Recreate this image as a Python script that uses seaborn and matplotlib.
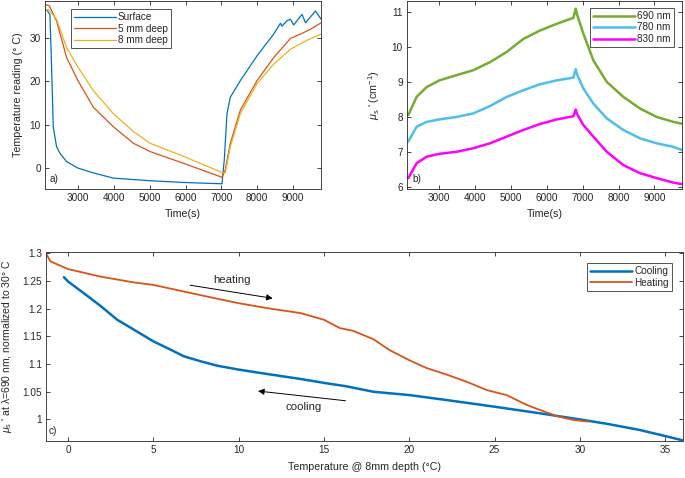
import numpy as np
import pandas as pd
import matplotlib
matplotlib.use("Agg")
import matplotlib.pyplot as plt
import seaborn as sns

# ---------------- data ----------------
# Panel a: temperature readings vs time
surf_t = [2080, 2124, 2217, 2264, 2310, 2403, 2497, 2683, 3000, 3429, 3988, 5013, 5945, 7017,
          7082, 7157, 7250, 7529, 7995, 8461, 8648, 8690, 8834, 8927, 9020, 9207, 9253, 9347, 9627, 9785]
surf_T = [36.5, 36.4, 35.3, 23.2, 9.5, 4.9, 3.4, 1.5, 0.0, -1.1, -2.3, -2.9, -3.3, -3.6,
          1.9, 12.5, 16.3, 20.1, 25.8, 30.8, 33.3, 32.6, 33.9, 34.2, 32.9, 34.9, 35.3, 33.4, 36.1, 34.2]
d5_t = [2080, 2200, 2403, 2683, 3000, 3429, 3988, 4547, 5013, 5945, 7017, 7110, 7250, 7529, 7995,
        8461, 8927, 9207, 9487, 9785]
d5_T = [37.6, 37.3, 33.8, 25.4, 20.1, 14.0, 9.5, 5.7, 3.8, 1.1, -2.1, -0.4, 5.7, 13.3, 20.1,
        25.4, 29.8, 30.8, 31.9, 33.4]
d8_t = [2080, 2200, 2403, 2683, 3000, 3429, 3988, 4547, 5013, 5945, 7017, 7110, 7250, 7529, 7995,
        8461, 8927, 9393, 9785]
d8_T = [36.4, 36.3, 34.2, 27.7, 23.2, 17.8, 12.5, 8.4, 5.7, 2.7, -1.0, -1.1, 4.9, 12.5, 19.4,
        23.9, 27.3, 29.4, 30.8]

# Panel b: reduced scattering vs time
mus_t = [2135, 2367, 2647, 3000, 3484, 3949, 4414, 4879, 5344, 5809, 6274, 6740, 6805, 6851,
         7019, 7298, 7670, 8135, 8600, 9065, 9530, 9763]
mus_690 = [8.05, 8.57, 8.85, 9.04, 9.19, 9.33, 9.56, 9.85, 10.22, 10.46, 10.65, 10.82, 11.08, 10.89,
           10.37, 9.61, 9.00, 8.57, 8.24, 8.00, 7.86, 7.81]
mus_780 = [7.30, 7.72, 7.86, 7.93, 8.00, 8.10, 8.31, 8.57, 8.76, 8.93, 9.04, 9.12, 9.36, 9.19,
           8.81, 8.38, 7.96, 7.63, 7.39, 7.25, 7.15, 7.06]
mus_830 = [6.26, 6.68, 6.87, 6.95, 7.01, 7.11, 7.25, 7.44, 7.63, 7.80, 7.93, 8.02, 8.21, 8.07,
           7.77, 7.44, 7.01, 6.63, 6.40, 6.26, 6.13, 6.09]

# Panel c: normalized mu_s' vs temperature at 8 mm
cool_T = [-0.25, 0.0, 0.92, 1.9, 2.88, 3.86, 5.0, 5.81, 6.79, 7.77, 8.75, 10.0, 11.68, 13.64, 15.0,
          16.28, 17.89, 20.0, 22.19, 25.0, 27.67, 30.0, 31.6, 33.5, 35.0, 36.05]
cool_v = [1.257, 1.249, 1.228, 1.205, 1.180, 1.162, 1.141, 1.129, 1.114, 1.105, 1.097, 1.090, 1.082,
          1.073, 1.066, 1.060, 1.050, 1.044, 1.035, 1.023, 1.011, 1.000, 0.992, 0.981, 0.970, 0.962]
heat_T = [-1.3, -1.04, 0.0, 1.9, 3.86, 5.0, 6.8, 8.75, 10.0, 11.68, 13.64, 15.0, 15.93, 16.71, 17.89,
          18.86, 20.0, 21.0, 22.19, 23.37, 24.54, 25.71, 26.3, 26.9, 27.67, 28.65, 29.63, 30.5]
heat_v = [1.300, 1.2855, 1.2716, 1.258, 1.2475, 1.243, 1.231, 1.218, 1.210, 1.201, 1.192, 1.180, 1.165,
          1.160, 1.145, 1.125, 1.107, 1.093, 1.081, 1.068, 1.053, 1.044, 1.035, 1.026, 1.017, 1.006,
          0.999, 0.996]

# ---------------- style ----------------
sns.set_theme(style="ticks")
plt.rcParams['font.family'] = ['Liberation Sans', 'DejaVu Sans']
plt.rcParams['mathtext.fontset'] = 'custom'
plt.rcParams['mathtext.rm'] = 'Liberation Sans'
plt.rcParams['mathtext.it'] = 'Liberation Sans:italic'
plt.rcParams['axes.edgecolor'] = '#262626'
plt.rcParams['axes.linewidth'] = 0.6

BLUE = '#0072BD'
ORANGE = '#D95319'
YELLOW = '#EDB120'
GREEN = '#77AC30'
CYAN = '#4DBEEE'
MAGENTA = '#FF00FF'
TXT = '#262626'
FS = 7.2

W, H = 685, 478
fig = plt.figure(figsize=(W / 100, H / 100), dpi=100)


def box(l, r, t, b):
    return [l / W, 1 - b / H, (r - l) / W, (b - t) / H]


def style_ax(ax):
    ax.tick_params(direction='in', top=True, right=True, length=3, width=0.6,
                   labelsize=FS, colors=TXT, pad=3)
    for s in ax.spines.values():
        s.set_visible(True)
        s.set_color('#262626')
        s.set_linewidth(0.6)


def legend(ax, loc, anchor):
    lg = ax.legend(loc=loc, bbox_to_anchor=anchor, fontsize=FS, frameon=True, fancybox=False,
                   handlelength=4.2, handletextpad=0.2, borderpad=0.3, labelspacing=0.15,
                   borderaxespad=0)
    lg.get_frame().set_edgecolor('#262626')
    lg.get_frame().set_linewidth(0.7)
    return lg


# ---------------- panel a ----------------
axa = fig.add_axes(box(45, 321, 1, 189))
dfa = pd.concat([
    pd.DataFrame({'t': surf_t, 'T': surf_T, 'series': 'Surface'}),
    pd.DataFrame({'t': d5_t, 'T': d5_T, 'series': '5 mm deep'}),
    pd.DataFrame({'t': d8_t, 'T': d8_T, 'series': '8 mm deep'}),
])
sns.lineplot(data=dfa, x='t', y='T', hue='series', sort=False, estimator=None, ax=axa,
             palette=[BLUE, ORANGE, YELLOW], linewidth=0.9)
axa.set_xlim(2080, 9780)
axa.set_ylim(-4.8, 38.4)
axa.set_xticks([3000, 4000, 5000, 6000, 7000, 8000, 9000])
axa.set_yticks([0, 10, 20, 30])
style_ax(axa)
axa.set_xlabel('Time(s)', fontsize=FS + 0.5, color=TXT)
axa.set_ylabel('Temperature reading (° C)', fontsize=FS + 0.5, color=TXT)
axa.xaxis.set_label_coords(0.5, -0.106)
axa.yaxis.set_label_coords(-0.08, 0.5)
axa.text(0.015, 0.025, 'a)', transform=axa.transAxes, fontsize=FS, color=TXT, va='bottom')
legend(axa, 'upper left', ((71 - 45) / 276, 1 - 8 / 188))

# ---------------- panel b ----------------
axb = fig.add_axes(box(407, 682, 1, 189))
dfb = pd.concat([
    pd.DataFrame({'t': mus_t, 'v': mus_690, 'series': '690 nm'}),
    pd.DataFrame({'t': mus_t, 'v': mus_780, 'series': '780 nm'}),
    pd.DataFrame({'t': mus_t, 'v': mus_830, 'series': '830 nm'}),
])
sns.lineplot(data=dfb, x='t', y='v', hue='series', sort=False, estimator=None, ax=axb,
             palette=[GREEN, CYAN, MAGENTA], linewidth=1.8)
axb.set_xlim(2100, 9770)
axb.set_ylim(5.95, 11.3)
axb.set_xticks([3000, 4000, 5000, 6000, 7000, 8000, 9000])
axb.set_yticks([6, 7, 8, 9, 10, 11])
style_ax(axb)
axb.set_xlabel('Time(s)', fontsize=FS + 0.5, color=TXT)
axb.set_ylabel("$\\mu_\\mathrm{s}$ ' (cm$^{-1}$)", fontsize=FS + 0.5, color=TXT)
axb.xaxis.set_label_coords(0.5, -0.106)
axb.yaxis.set_label_coords(-0.091, 0.5)
axb.text(0.02, 0.025, 'b)', transform=axb.transAxes, fontsize=FS, color=TXT, va='bottom')
legend(axb, 'upper right', (1 - (682 - 674) / 275, 1 - 7 / 188))

# ---------------- panel c ----------------
axc = fig.add_axes(box(46, 683, 252, 441))
sns.lineplot(x=cool_T, y=cool_v, sort=False, estimator=None, ax=axc, color=BLUE,
             linewidth=1.8, label='Cooling')
sns.lineplot(x=heat_T, y=heat_v, sort=False, estimator=None, ax=axc, color=ORANGE,
             linewidth=1.3, label='Heating')
axc.set_xlim(-1.3, 36.05)
axc.set_ylim(0.961, 1.3025)
axc.set_xticks([0, 5, 10, 15, 20, 25, 30, 35])
axc.set_yticks([1, 1.05, 1.1, 1.15, 1.2, 1.25, 1.3])
axc.set_yticklabels(['1', '1.05', '1.1', '1.15', '1.2', '1.25', '1.3'])
style_ax(axc)
axc.set_xlabel('Temperature @ 8mm depth (°C)', fontsize=FS + 0.5, color=TXT)
axc.set_ylabel("$\\mu_\\mathrm{s}$ ' at λ=690 nm, normalized to 30° C",
               fontsize=FS + 0.3, color=TXT)
axc.xaxis.set_label_coords(0.5, -0.112)
axc.yaxis.set_label_coords(-0.051, 0.5)
axc.text(0.004, 0.025, 'c)', transform=axc.transAxes, fontsize=FS, color=TXT, va='bottom')
legend(axc, 'upper right', (1 - (683 - 672) / 637, 1 - 11 / 189))

axc.annotate('', xy=(12.15, 1.218), xytext=(6.99, 1.2433),
             arrowprops=dict(arrowstyle='-|>', color='black', lw=0.7, mutation_scale=9))
axc.text(9.6, 1.2525, 'heating', fontsize=FS + 1, color=TXT, ha='center', va='center')
axc.annotate('', xy=(10.97, 1.0518), xytext=(16.42, 1.0332),
             arrowprops=dict(arrowstyle='-|>', color='black', lw=0.7, mutation_scale=9))
axc.text(13.8, 1.0223, 'cooling', fontsize=FS + 1, color=TXT, ha='center', va='center')

fig.savefig('out.png', dpi=100)
